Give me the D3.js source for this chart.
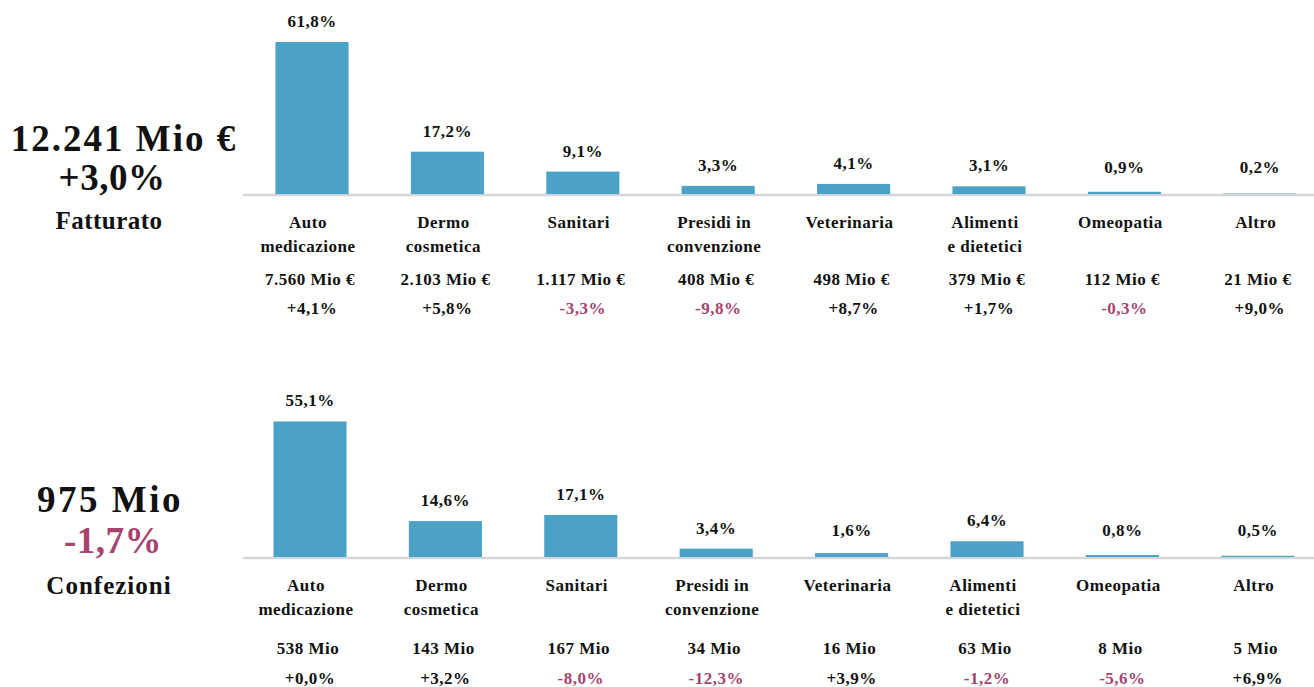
<!DOCTYPE html>
<html>
<head>
<meta charset="utf-8">
<script src="https://cdn.jsdelivr.net/npm/d3@7"></script>
<style>
  body { margin: 0; background: #fff; }
  text { font-family: "Liberation Serif", "DejaVu Serif", serif; font-weight: bold; fill: #111; }
</style>
</head>
<body>
<div class="chart-area"></div>
<script>
// categories (two lines each)
const categories = [
  ["Auto", "medicazione"], ["Dermo", "cosmetica"], ["Sanitari"], ["Presidi in", "convenzione"],
  ["Veterinaria"], ["Alimenti", "e dietetici"], ["Omeopatia"], ["Altro"]
];

// Fatturato
const fattShare = [61.8, 17.2, 9.1, 3.3, 4.1, 3.1, 0.9, 0.2];
const fattValue = ["7.560 Mio €", "2.103 Mio €", "1.117 Mio €", "408 Mio €", "498 Mio €", "379 Mio €", "112 Mio €", "21 Mio €"];
const fattChange = [4.1, 5.8, -3.3, -9.8, 8.7, 1.7, -0.3, 9.0];

// Confezioni
const confShare = [55.1, 14.6, 17.1, 3.4, 1.6, 6.4, 0.8, 0.5];
const confValue = ["538 Mio", "143 Mio", "167 Mio", "34 Mio", "16 Mio", "63 Mio", "8 Mio", "5 Mio"];
const confChange = [0.0, 3.2, -8.0, -12.3, 3.9, -1.2, -5.6, 6.9];

const blue = "#4ba1c6", pink = "#a8436f";

let outerWidth = 1314, outerHeight = 687;
let svg = d3.select(".chart-area").append("svg")
  .attr("width", outerWidth)
  .attr("height", outerHeight);

let fmt = d => d3.format(".1f")(Math.abs(d)).replace(".", ",");
let pctFormat = d => fmt(d) + "%";
let chgFormat = d => (d < 0 ? "-" : "+") + fmt(d) + "%";

function panel(share, values, changes, base, x0, opts) {
  let g = svg.append("g");

  let xScale = d3.scaleBand()
    .domain(d3.range(categories.length))
    .range([x0, x0 + 8 * 135.4])
    .paddingInner(0.46)
    .paddingOuter(0.23);

  let yScale = d3.scaleLinear()
    .domain([0, 62])
    .range([base, base - 152.5]);

  let cx = i => xScale(i) + xScale.bandwidth() / 2;

  // baseline
  g.append("line")
    .attr("x1", 243).attr("x2", 1314)
    .attr("y1", base + 1).attr("y2", base + 1)
    .attr("stroke", "#d2d6da")
    .attr("stroke-width", 2.5);

  g.selectAll("rect.bar")
    .data(share)
    .enter()
    .append("rect")
    .attr("class", "bar")
    .attr("x", (d, i) => xScale(i))
    .attr("width", xScale.bandwidth())
    .attr("y", d => yScale(d))
    .attr("height", d => base - yScale(d))
    .attr("fill", blue);

  g.selectAll("text.pct")
    .data(share)
    .enter()
    .append("text")
    .attr("class", "pct")
    .attr("x", (d, i) => cx(i))
    .attr("y", d => Math.min(yScale(d), base - 6) - 15)
    .attr("text-anchor", "middle")
    .attr("font-size", 17)
    .attr("letter-spacing", 0.5)
    .text(pctFormat);

  categories.forEach((lines, i) => {
    lines.forEach((t, k) => {
      g.append("text")
        .attr("x", cx(i) - 4)
        .attr("y", base + 34 + k * 24)
        .attr("text-anchor", "middle")
        .attr("font-size", 17)
        .attr("letter-spacing", 0.5)
        .text(t);
    });
  });

  g.selectAll("text.val")
    .data(values)
    .enter()
    .append("text")
    .attr("class", "val")
    .attr("x", (d, i) => cx(i) - 2)
    .attr("y", base + opts.valDy)
    .attr("text-anchor", "middle")
    .attr("font-size", 17)
    .attr("letter-spacing", 0.5)
    .text(d => d);

  g.selectAll("text.chg")
    .data(changes)
    .enter()
    .append("text")
    .attr("class", "chg")
    .attr("x", (d, i) => cx(i))
    .attr("y", base + opts.chgDy)
    .attr("text-anchor", "middle")
    .attr("font-size", 17)
    .attr("letter-spacing", 0.5)
    .style("fill", d => d < 0 ? pink : "#111")
    .text(chgFormat);
}

panel(fattShare, fattValue, fattChange, 194, 244.3, {valDy: 91, chgDy: 120});
panel(confShare, confValue, confChange, 557, 242.3, {valDy: 97, chgDy: 127});

// left headline texts
const headTop = ["12.241 Mio €", "+3,0%", "Fatturato"];
const headBottom = ["975 Mio", "-1,7%", "Confezioni"];

function headline(lines, ys, xs, spacing, colors) {
  lines.forEach((t, i) => {
    svg.append("text")
      .attr("x", xs[i])
      .attr("y", ys[i])
      .attr("text-anchor", "middle")
      .attr("font-size", i < 2 ? 37 : 25)
      .attr("letter-spacing", spacing[i])
      .style("fill", colors[i])
      .text(t);
  });
}
headline(headTop, [151, 190, 229], [124, 112, 109], [2, 0.5, 0.5], ["#111", "#111", "#111"]);
headline(headBottom, [512, 553, 594], [110, 113, 109], [2.5, 0.5, 1], ["#111", pink, "#111"]);
</script>
</body>
</html>
